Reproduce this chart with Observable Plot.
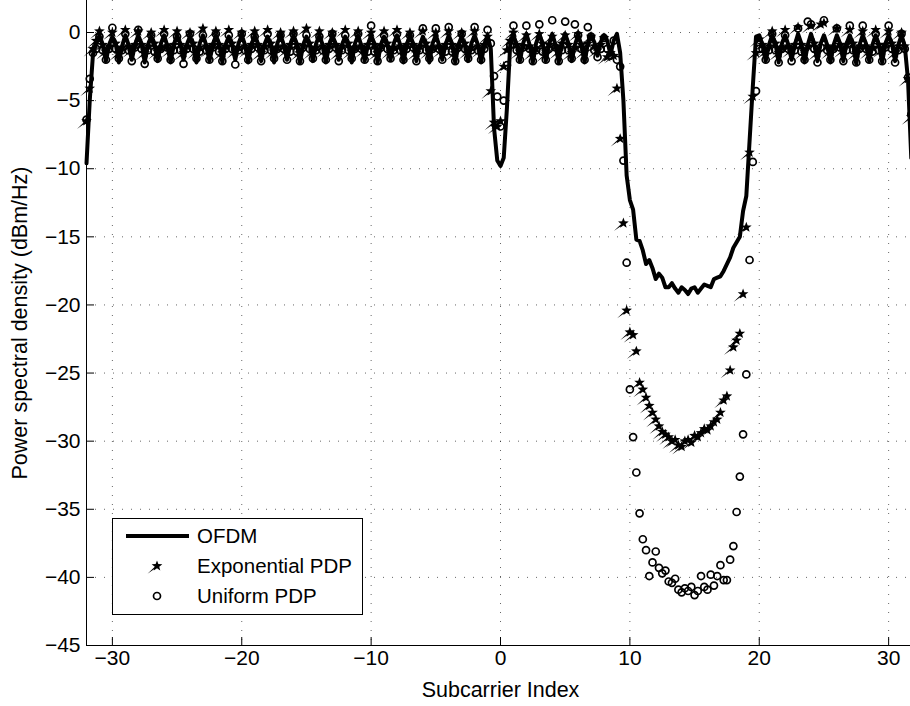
<!DOCTYPE html>
<html><head><meta charset="utf-8">
<script src="https://cdn.jsdelivr.net/npm/d3@7"></script>
<script src="https://cdn.jsdelivr.net/npm/@observablehq/plot@0.6"></script>
<style>
html,body{margin:0;padding:0;background:#fff;overflow:hidden;}
#wrap{position:relative;width:910px;height:706px;font-family:"Liberation Sans",Arial,Helvetica,sans-serif;}
#wrap svg{overflow:hidden;}
#legend{position:absolute;left:112px;top:518px;width:249px;height:95px;border:1px solid #000;background:#fff;font-size:20.5px;}
#legend .row{position:absolute;left:0;height:30px;width:100%;}
#legend .lab{position:absolute;left:84px;top:0;line-height:30px;white-space:nowrap;}
#legend svg{position:absolute;left:0;top:0;overflow:visible;}
</style></head><body><div id="wrap"></div><script>
// Subcarrier grid: 4 samples per subcarrier
const subcarrier = d3.range(-32, 32, 0.25);
const xTicks = [-30, -20, -10, 0, 10, 20, 30];
const yTicks = [0, -5, -10, -15, -20, -25, -30, -35, -40, -45];
const xDomain = [-32, 32];
const yDomain = [-45, 2.35];
const seriesNames = ["OFDM", "Exponential PDP", "Uniform PDP"];

// OFDM PSD (dBm/Hz), one row per subcarrier k: k, k+.25, k+.5, k+.75
const ofdm = [
-9.6,-5.0,-1.6,-0.8,
-0.2,-0.9,-2.1,-0.9,
-0.3,-0.8,-2.2,-1.0,
-0.2,-0.9,-2.0,-0.9,
-0.2,-0.8,-2.2,-0.9,
-0.3,-0.9,-2.1,-0.8,
-0.2,-1.0,-2.2,-0.9,
-0.2,-0.8,-2.0,-0.9,
-0.3,-0.9,-2.2,-0.8,
-0.2,-0.9,-2.1,-1.0,
-0.2,-0.8,-2.2,-0.9,
-0.3,-0.9,-2.0,-0.8,
-0.2,-0.9,-2.2,-0.9,
-0.2,-0.8,-2.1,-0.9,
-0.3,-1.0,-2.2,-0.8,
-0.2,-0.9,-2.0,-0.9,
-0.2,-0.8,-2.2,-0.9,
-0.3,-0.9,-2.1,-0.8,
-0.2,-0.9,-2.2,-1.0,
-0.2,-0.8,-2.0,-0.9,
-0.3,-0.9,-2.2,-0.8,
-0.2,-1.0,-2.1,-0.9,
-0.2,-0.8,-2.2,-0.9,
-0.3,-0.9,-2.0,-0.8,
-0.2,-0.9,-2.2,-0.9,
-0.2,-0.8,-2.1,-1.0,
-0.3,-0.9,-2.2,-0.8,
-0.2,-0.9,-2.0,-0.9,
-0.2,-0.8,-2.2,-0.9,
-0.3,-1.0,-2.1,-0.8,
-0.2,-0.9,-2.2,-0.9,
-0.2,-1.2,-7.0,-9.4,
-9.8,-9.2,-5.5,-0.9,
-0.2,-0.9,-2.1,-0.8,
-0.1,-0.9,-2.2,-0.8,
-0.1,-0.8,-2.1,-0.9,
-0.1,-0.9,-2.2,-0.8,
-0.1,-0.8,-2.1,-0.9,
-0.2,-0.9,-2.2,-0.8,
-0.2,-0.7,-1.7,-0.7,
-0.2,-0.6,-1.6,-0.6,
-0.1,-1.5,-5.0,-10.5,
-12.3,-13.0,-15.2,-15.3,
-16.0,-17.0,-16.7,-17.3,
-18.1,-17.7,-18.0,-18.7,
-18.7,-18.4,-18.8,-19.1,
-18.7,-18.9,-19.2,-18.8,
-18.7,-19.1,-18.8,-18.5,
-18.6,-18.7,-18.1,-18.0,
-17.9,-17.5,-17.0,-16.5,
-15.8,-15.4,-15.0,-13.1,
-12.0,-8.0,-4.0,-0.3,
-0.2,-0.9,-2.1,-0.9,
-0.2,-0.8,-2.2,-0.8,
-0.2,-0.9,-2.0,-0.9,
-0.1,-0.8,-2.2,-0.9,
-0.1,-0.9,-2.1,-0.8,
-0.2,-0.9,-2.2,-0.9,
-0.2,-0.8,-2.1,-0.8,
-0.2,-0.9,-2.3,-0.9,
-0.2,-0.8,-2.1,-0.9,
-0.2,-0.9,-2.2,-0.8,
-0.2,-0.8,-2.1,-0.9,
-0.2,-1.0,-3.5,-9.2
];

// Exponential PDP
const expPdp = [
-6.5,-4.1,-1.2,-0.6,
0.1,-0.9,-1.4,-1.0,
0.0,-0.8,-1.5,-1.1,
0.2,-1.0,-1.3,-0.9,
0.1,-0.9,-1.5,-1.0,
0.0,-0.8,-1.4,-1.1,
0.2,-1.0,-1.3,-0.9,
0.1,-0.9,-1.5,-1.0,
0.0,-0.8,-1.4,-1.1,
0.3,-1.0,-1.3,-0.9,
0.1,-0.9,-1.5,-1.0,
0.2,-0.8,-1.4,-1.1,
0.0,-1.0,-1.3,-0.9,
0.1,-0.9,-1.5,-1.0,
0.2,-0.8,-1.4,-1.1,
0.0,-1.0,-1.3,-0.9,
0.1,-0.9,-1.5,-1.0,
0.3,-0.8,-1.4,-1.1,
0.1,-1.0,-1.3,-0.9,
0.0,-0.9,-1.5,-1.0,
0.2,-0.8,-1.4,-1.1,
0.1,-1.0,-1.3,-0.9,
0.0,-0.9,-1.5,-1.0,
0.1,-0.8,-1.4,-1.1,
0.2,-1.0,-1.3,-0.9,
0.0,-0.9,-1.5,-1.0,
0.1,-0.8,-1.4,-1.1,
0.0,-1.0,-1.3,-0.9,
0.1,-0.9,-1.5,-1.0,
0.0,-0.8,-1.4,-1.1,
0.1,-1.0,-1.3,-0.9,
-0.3,-4.3,-6.6,-6.9,
-6.5,-2.5,-1.3,-0.6,
0.0,-0.9,-1.4,-1.0,
-0.2,-1.0,-1.5,-1.2,
-0.1,-0.8,-1.6,-0.9,
-0.3,-1.0,-1.4,-0.8,
-0.2,-0.9,-1.5,-1.1,
-0.1,-0.9,-1.4,-0.8,
-0.3,-1.0,-1.3,-0.9,
-0.4,-1.8,-1.5,-1.7,
-4.1,-7.8,-14.0,-20.4,
-22.0,-22.2,-23.4,-25.7,
-26.2,-26.8,-27.4,-27.9,
-28.4,-28.9,-29.3,-29.5,
-29.7,-30.0,-29.9,-30.3,
-30.4,-30.0,-29.9,-30.1,
-29.6,-29.7,-29.4,-29.1,
-29.2,-28.9,-28.6,-28.4,
-27.9,-27.0,-26.7,-24.8,
-23.1,-22.6,-22.1,-19.2,
-14.3,-8.8,-4.7,-1.5,
-0.5,-0.9,-1.4,-1.0,
0.1,-0.8,-1.5,-1.1,
0.2,-1.0,-1.3,-0.9,
0.4,-0.9,-1.4,-1.0,
0.5,-0.8,-1.5,0.6,
0.7,-1.0,-1.4,-1.1,
0.3,-0.9,-1.3,-0.9,
0.2,-0.8,-1.5,-1.0,
0.1,-1.0,-1.4,-1.1,
0.2,-0.9,-1.3,-0.9,
0.1,-0.8,-1.5,-1.0,
0.0,-1.0,-3.4,-6.2
];

// Uniform PDP
const uniPdp = [
-6.4,-3.4,-1.5,-1.2,
-0.3,-1.3,-2.0,-1.2,
0.35,-1.2,-1.9,-1.3,
-0.1,-1.3,-2.1,-1.1,
0.2,-1.2,-2.3,-1.3,
-0.2,-1.4,-1.9,-1.2,
-0.1,-1.1,-2.0,-1.3,
-0.3,-1.3,-2.3,-1.2,
-0.1,-1.2,-1.9,-1.4,
-0.2,-1.3,-2.0,-1.1,
-0.1,-1.4,-2.1,-1.2,
-0.2,-1.2,-2.35,-1.3,
-0.1,-1.3,-2.0,-1.2,
-0.3,-1.1,-2.1,-1.3,
-0.1,-1.3,-1.9,-1.2,
-0.2,-1.2,-2.0,-1.4,
-0.1,-1.4,-2.1,-1.1,
-0.2,-1.2,-1.9,-1.3,
-0.3,-1.3,-2.0,-1.2,
-0.1,-1.1,-2.1,-1.3,
-0.2,-1.3,-1.9,-1.2,
-0.1,-1.2,-2.0,-1.4,
0.5,-1.4,-2.1,-1.1,
-0.2,-1.2,-1.9,-1.3,
-0.1,-1.3,-2.0,-1.2,
-0.2,-1.1,-2.1,-1.3,
0.3,-1.3,-1.9,-1.2,
0.3,-1.2,-2.0,-1.4,
0.4,-1.4,-2.1,-1.1,
-0.1,-1.2,-1.9,-1.3,
0.4,-1.3,-2.0,-1.2,
0.2,-0.8,-3.2,-4.7,
-6.9,-5.0,-2.4,-0.9,
0.5,-1.3,-2.0,-1.1,
0.5,-1.2,-2.1,-1.3,
0.6,-1.4,-2.0,-1.2,
0.9,-1.1,-2.1,-1.3,
0.8,-1.3,-1.9,0.6,
-0.2,-1.2,-2.0,0.4,
-0.3,-1.3,-1.8,-1.2,
-0.4,-1.2,-1.7,-0.6,
-2.0,-2.5,-9.4,-16.9,
-26.2,-29.7,-32.3,-35.3,
-37.2,-38.0,-39.9,-38.9,
-38.1,-39.3,-39.7,-39.5,
-40.3,-40.4,-40.1,-40.9,
-41.1,-40.8,-41.0,-40.7,
-41.3,-41.0,-39.9,-40.7,
-40.9,-39.8,-40.6,-39.9,
-39.1,-40.2,-40.2,-38.7,
-37.7,-35.2,-32.6,-29.5,
-25.1,-16.7,-9.5,-4.3,
-1.2,-1.2,-2.0,-1.3,
-0.1,-1.3,-2.2,-1.2,
-0.2,-1.2,-2.1,-1.3,
0.3,-1.4,-2.0,0.8,
0.6,-1.2,-2.2,-1.1,
0.9,-1.3,-2.0,-1.2,
0.3,-1.1,-2.1,-1.3,
0.5,-1.3,-2.2,-1.2,
0.5,-1.2,-2.0,-1.4,
-0.1,-1.3,-2.1,-1.1,
0.5,-1.2,-2.2,-1.3,
-0.1,-1.2,-3.3,-6.0
];

const ofdmData = subcarrier.map((x, i) => ({x, y: ofdm[i]}));
const expData = subcarrier.map((x, i) => ({x, y: expPdp[i]}));
const uniData = subcarrier.map((x, i) => ({x, y: uniPdp[i]}));

// pentagram marker with a thin tail (as in the exported figure)
const starTail = {
  draw(ctx, size) {
    const r = Math.sqrt(size / Math.PI), ri = r * 0.42;
    for (let i = 0; i < 10; i++) {
      const a = -Math.PI / 2 + i * Math.PI / 5, rr = i % 2 ? ri : r;
      const px = rr * Math.cos(a), py = rr * Math.sin(a);
      if (i) ctx.lineTo(px, py); else ctx.moveTo(px, py);
    }
    ctx.closePath();
    ctx.moveTo(0.6, 0.75);
    ctx.lineTo(-1.7 * r, 1.4 * r);
    ctx.lineTo(-0.6, -0.75);
    ctx.closePath();
  }
};

const TICK_FONT = 21, LABEL_FONT = 21.5;
const chart = Plot.plot({
  width: 910, height: 706,
  marginLeft: 86, marginRight: -4, marginTop: 0, marginBottom: 61,
  style: {fontFamily: '"Liberation Sans", Arial, Helvetica, sans-serif', background: "#fff", color: "#000"},
  x: {domain: xDomain},
  y: {domain: yDomain},
  marks: [
    Plot.gridX(xTicks, {stroke: "#000", strokeOpacity: 0.6, strokeDasharray: "1,8"}),
    Plot.gridY(yTicks, {stroke: "#000", strokeOpacity: 0.6, strokeDasharray: "1,8"}),
    Plot.line(ofdmData, {x: "x", y: "y", stroke: "#000", strokeWidth: 4, strokeLinejoin: "round"}),
    Plot.dot(expData, {x: "x", y: "y", symbol: starTail, r: 5.6, fill: "#000", stroke: "none"}),
    Plot.dot(uniData, {x: "x", y: "y", r: 3.5, fill: "none", stroke: "#000", strokeWidth: 1.7}),
    Plot.ruleX([xDomain[0]], {stroke: "#000", strokeWidth: 1}),
    Plot.ruleY([yDomain[0]], {stroke: "#000", strokeWidth: 1}),
    Plot.axisX(xTicks, {tickSize: -8, tickPadding: 13, fontSize: TICK_FONT, label: null}),
    Plot.axisY(yTicks, {tickSize: -8, tickPadding: 14, fontSize: TICK_FONT, label: null}),
    Plot.text(["Subcarrier Index"], {frameAnchor: "bottom", dy: 45, lineAnchor: "middle", fontSize: LABEL_FONT}),
    Plot.text(["Power spectral density (dBm/Hz)"], {frameAnchor: "left", dx: -66, rotate: -90, textAnchor: "middle", lineAnchor: "middle", fontSize: LABEL_FONT})
  ]
});
const wrap = document.getElementById("wrap");
wrap.appendChild(chart);

// legend
const leg = document.createElement("div");
leg.id = "legend";
const starPath = d3.symbol(starTail, 5.6 * 5.6 * Math.PI)();
seriesNames.forEach((name, i) => {
  const row = document.createElement("div");
  row.className = "row";
  row.style.top = (2 + i * 30) + "px";
  let sw = "";
  if (i === 0) sw = `<line x1="13" x2="76" y1="15" y2="15" stroke="#000" stroke-width="4"/>`;
  else if (i === 1) sw = `<path transform="translate(44,15)" d="${starPath}" fill="#000"/>`;
  else sw = `<circle cx="44" cy="15" r="3.5" fill="none" stroke="#000" stroke-width="1.7"/>`;
  row.innerHTML = `<svg width="80" height="30">${sw}</svg><span class="lab">${name}</span>`;
  leg.appendChild(row);
});
wrap.appendChild(leg);
</script></body></html>
